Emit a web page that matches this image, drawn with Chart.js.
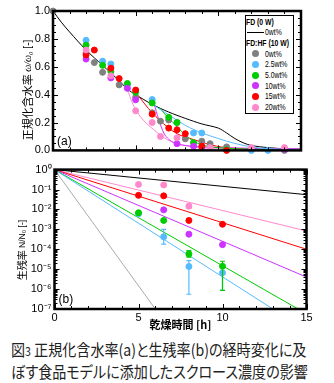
<!DOCTYPE html>
<html>
<head>
<meta charset="utf-8">
<script src="https://cdn.jsdelivr.net/npm/chart.js@4.4.0/dist/chart.umd.min.js"></script>
<style>
  body { margin: 0; background: #fff; overflow: hidden; }
  #wrap { position: relative; width: 334px; height: 383px; font-family: "Liberation Sans", Arial, sans-serif; }
  #wrap canvas { position: absolute; left: 0; }
  #chartA { top: 0; }
  #chartB { top: 160px; }
  #legend { position: absolute; left: 245px; top: 15px; width: 47px; height: 97px;
            border: 1px solid #000; background: #fff; font-size: 9.5px; color: #000; }
  #legend .row { position: absolute; left: 0; height: 10px; line-height: 10px; white-space: nowrap; }
  #legend .txt { display: inline-block; transform: scaleX(0.72); transform-origin: 0 50%; }
  #legend .head { font-weight: bold; }
  #legend .dot { position: absolute; width: 7px; height: 7px; border-radius: 50%; left: 6px; top: 1.5px; }
  #legend .ln { position: absolute; left: 1px; width: 17px; top: 5px; border-top: 1px solid #000; }
  #caption { position: absolute; left: 11px; top: 339px; font-family: "Noto Sans CJK JP", sans-serif;
             font-size: 16px; line-height: 20px; color: #222; white-space: nowrap;
             font-feature-settings: "palt"; transform: scaleX(0.88); transform-origin: 0 0; }
</style>
</head>
<body>
<div id="wrap">
  <canvas id="chartA" width="334" height="160"></canvas>
  <canvas id="chartB" width="334" height="172"></canvas>
  <div id="legend"></div>
  <div id="caption">図<span style="font-size:12px">3</span> 正規化含水率(a)と生残率(b)の経時変化に及<br>ぼす食品モデルに添加したスクロース濃度の影響</div>
</div>
<script>
// series names and colours
const series = ["0wt%", "2.5wt%", "5.0wt%", "10wt%", "15wt%", "20wt%"];
const colors = ["#808080", "#55BBFF", "#00CC00", "#CC33FF", "#FF0000", "#FF88CC"];

// (a) normalized moisture content, FD (0 W) reference curve
const fdHours = [0, 0.5, 1, 2, 3, 4, 4.5, 5, 6, 7, 8, 9, 10, 10.5, 11, 11.5, 12, 13, 14, 15];
const fdMoisture = [1, 0.92, 0.85, 0.72, 0.61, 0.5, 0.44, 0.4, 0.33, 0.275, 0.23, 0.19, 0.16, 0.125, 0.085, 0.055, 0.035, 0.02, 0.012, 0.01];

// (a) FD:HF (10 W) measurements
const moistHours = [
  [0, 2, 2.5, 3, 4, 5, 6, 6.5, 7, 8, 9, 9.5, 10.5, 14],
  [2, 3, 3.5, 4.5, 6, 7.5, 8.5, 9, 10.5, 12, 13],
  [2, 3, 3.5, 4.5, 5, 6, 7, 7.5, 8.5, 10.5],
  [2, 3.5, 4.5, 5, 7.5, 8.5, 9, 14],
  [2, 2.5, 3.5, 4, 5, 6, 7, 7.5, 8, 9, 10.5],
  [2, 3.5, 5, 6, 6.5, 7.5, 9.5, 12, 14]
];
const moistValues = [
  [1, 0.70, 0.63, 0.56, 0.47, 0.38, 0.27, 0.21, 0.218, 0.083, 0.066, 0.048, 0.025, 0],
  [0.79, 0.64, 0.62, 0.47, 0.365, 0.2, 0.125, 0.125, 0.005, 0, 0],
  [0.755, 0.61, 0.565, 0.48, 0.417, 0.34, 0.237, 0.2, 0.055, 0.005],
  [0.655, 0.52, 0.445, 0.363, 0.048, 0.03, 0.02, 0.008],
  [0.685, 0.72, 0.59, 0.515, 0.433, 0.26, 0.16, 0.148, 0.12, 0.03, 0],
  [0.72, 0.535, 0.284, 0.2, 0.10, 0.09, 0.02, 0.02, 0.02]
];

// (a) model curves (gray has none)
const fitHours = [
  [],
  [6, 7, 8, 8.5, 9, 10, 10.5, 11, 12, 13, 15],
  [6.4, 7, 7.5, 8, 8.5, 9, 10, 11, 15],
  [6.1, 6.4, 6.7, 7, 7.3, 8, 9, 10, 15],
  [5.1, 6, 6.9, 7.5, 8.5, 9.9, 11, 15],
  [4.5, 4.8, 5.3, 6.1, 6.9, 7.7, 8.5, 10, 15]
];
const fitValues = [
  [],
  [0.33, 0.255, 0.18, 0.15, 0.125, 0.085, 0.066, 0.05, 0.025, 0.012, 0.005],
  [0.31, 0.23, 0.17, 0.11, 0.066, 0.04, 0.02, 0.012, 0.005],
  [0.34, 0.22, 0.125, 0.08, 0.055, 0.035, 0.025, 0.02, 0.01],
  [0.4, 0.27, 0.17, 0.12, 0.078, 0.03, 0.015, 0.005],
  [0.44, 0.34, 0.24, 0.148, 0.078, 0.043, 0.025, 0.015, 0.01]
];

// (b) survival ratio N/N0
const survHours = [
  [],
  [5, 6.5, 8, 10],
  [5, 6.5, 8, 10],
  [6.5, 8, 10],
  [5, 6.5, 8, 10],
  [0, 5, 6.5, 8]
];
const survValues = [
  [],
  [0.006, 4.2e-4, 1.36e-5, 6.6e-6],
  [0.0068, 0.0028, 5.8e-5, 1.4e-5],
  [0.0095, 5.7e-4, 1.7e-4],
  [0.051, 0.048, 0.0028, 0.0018],
  [1, 0.18, 0.17, 0.0145]
];
// error bar ranges [low, high], null where none is drawn
const survErrors = [
  [],
  [null, [1.8e-4, 1.0e-3], [5.5e-7, 2.7e-5], [8.7e-7, 7.8e-6]],
  [[0.0055, 0.0085], null, [4.0e-5, 8.5e-5], [8.7e-7, 2.5e-5]],
  [null, null, null],
  [null, null, null, null],
  [null, null, null, [0.0112, 0.0178]]
];
// (b) first-order inactivation lines: N/N0 = 1 at t = 0, end point given
const killEndHours = [6, 13, 14.5, 15, 15, 15];
const killEndValues = [1e-7, 1e-7, 1e-7, 4e-6, 1.0e-4, 8.3e-4];
const fdKillEnd = 0.055;

const tickFont = { family: "'Liberation Sans', Arial, sans-serif", size: 11 };

function pairs(xs, ys) {
  return xs.map((x, i) => ({ x: x, y: ys[i] }));
}

// thick frame with inward ticks on all four sides
const frameTicks = {
  id: "frameTicks",
  afterDatasetsDraw(chart, args, opts) {
    const { ctx, chartArea: { left, right, top, bottom }, scales: { x, y } } = chart;
    ctx.save();
    ctx.strokeStyle = "#000";
    ctx.lineWidth = 1;
    ctx.beginPath();
    opts.xTicks.forEach((v) => {
      const px = Math.round(x.getPixelForValue(v)) + 0.5;
      const len = v % 5 === 0 ? 5 : 3;
      ctx.moveTo(px, bottom); ctx.lineTo(px, bottom - len);
      ctx.moveTo(px, top); ctx.lineTo(px, top + len);
    });
    opts.yTicks.forEach((t) => {
      const py = Math.round(y.getPixelForValue(t.v)) + 0.5;
      const len = t.major ? 5 : 3;
      ctx.moveTo(left, py); ctx.lineTo(left + len, py);
      ctx.moveTo(right, py); ctx.lineTo(right - len, py);
    });
    ctx.stroke();
    ctx.lineWidth = 2.5;
    ctx.strokeRect(left, top, right - left, bottom - top);
    ctx.restore();
  }
};

// vertical error bars from data objects carrying lo / hi
const errorBars = {
  id: "errorBars",
  afterDatasetsDraw(chart) {
    const { ctx, scales: { x, y } } = chart;
    ctx.save();
    chart.data.datasets.forEach((ds) => {
      ds.data.forEach((p) => {
        if (p.lo === undefined) return;
        const px = x.getPixelForValue(p.x);
        const y1 = y.getPixelForValue(p.lo);
        const y2 = y.getPixelForValue(p.hi);
        ctx.strokeStyle = ds.borderColor;
        ctx.lineWidth = 1.2;
        ctx.beginPath();
        ctx.moveTo(px, y1); ctx.lineTo(px, y2);
        ctx.moveTo(px - 2.5, y1); ctx.lineTo(px + 2.5, y1);
        ctx.moveTo(px - 2.5, y2); ctx.lineTo(px + 2.5, y2);
        ctx.stroke();
      });
    });
    ctx.restore();
  }
};

// rotated y-axis title and panel tag
const panelText = {
  id: "panelText",
  afterDraw(chart, args, opts) {
    const { ctx, chartArea: { left, bottom } } = chart;
    ctx.save();
    ctx.fillStyle = "#000";
    ctx.translate(opts.titleX, opts.titleY);
    ctx.rotate(-Math.PI / 2);
    let total = 0;
    opts.parts.forEach((p) => { ctx.font = p.font; total += ctx.measureText(p.text).width; });
    let pos = -total / 2;
    ctx.textBaseline = "middle";
    opts.parts.forEach((p) => {
      ctx.font = p.font;
      ctx.fillText(p.text, pos, 0);
      pos += ctx.measureText(p.text).width;
    });
    ctx.restore();
    ctx.save();
    ctx.font = "12px 'Liberation Sans', Arial, sans-serif";
    ctx.fillStyle = "#000";
    ctx.textBaseline = "middle";
    ctx.fillText(opts.tag, left + 4, bottom - 9);
    ctx.restore();
  }
};

const hourTicks = Array.from({ length: 16 }, (_, i) => i);

// ---------- (a) ----------
const dsA = [];
dsA.push({
  data: pairs(fdHours, fdMoisture), showLine: true, borderColor: "#000", borderWidth: 1,
  pointRadius: 0, tension: 0.3, order: 20
});
series.forEach((name, i) => {
  if (fitHours[i].length) {
    dsA.push({
      data: pairs(fitHours[i], fitValues[i]), showLine: true, borderColor: colors[i], borderWidth: 1,
      pointRadius: 0, cubicInterpolationMode: "monotone", order: 10 + i
    });
  }
});
series.forEach((name, i) => {
  dsA.push({
    label: name, data: pairs(moistHours[i], moistValues[i]), showLine: false,
    backgroundColor: colors[i], borderColor: colors[i], pointRadius: 3, pointBorderWidth: 1, order: 6 - i
  });
});

const yTicksA = [];
for (let k = 0; k <= 20; k++) yTicksA.push({ v: k * 0.05, major: k % 4 === 0 });

new Chart(document.getElementById("chartA"), {
  type: "scatter",
  data: { datasets: dsA },
  options: {
    responsive: false, animation: false, devicePixelRatio: 1, clip: false,
    layout: { padding: { left: 0, right: 33, top: 11, bottom: 0 } },
    plugins: {
      legend: { display: false }, tooltip: { enabled: false },
      frameTicks: { xTicks: hourTicks, yTicks: yTicksA },
      panelText: {
        titleX: 28, titleY: 90, tag: "(a)",
        parts: [
          { text: "正規化含水率 ", font: "11px 'Noto Sans CJK JP', sans-serif" },
          { text: "ω/ω₀", font: "italic 10px 'Liberation Serif', serif" },
          { text: " [-]", font: "10px 'Liberation Sans', Arial, sans-serif" }
        ]
      }
    },
    scales: {
      x: {
        type: "linear", min: 0, max: 15,
        grid: { display: false, drawTicks: false }, border: { display: false },
        ticks: { display: false },
        afterFit(s) { s.height = 5.5; }
      },
      y: {
        min: 0, max: 1,
        grid: { display: false, drawTicks: false }, border: { display: false },
        ticks: { stepSize: 0.2, padding: 3, color: "#000", font: tickFont, callback: (v) => v.toFixed(1) },
        afterFit(s) { s.width = 53; }
      }
    }
  },
  plugins: [frameTicks, panelText]
});

// ---------- (b) ----------
const dsB = [];
dsB.push({
  data: [{ x: 0, y: 1 }, { x: 15, y: fdKillEnd }], showLine: true, borderColor: "#000",
  borderWidth: 1, pointRadius: 0, order: 20
});
series.forEach((name, i) => {
  dsB.push({
    data: [{ x: 0, y: 1 }, { x: killEndHours[i], y: killEndValues[i] }], showLine: true,
    borderColor: i === 0 ? "#AAAAAA" : colors[i], borderWidth: 1, pointRadius: 0, order: 10 + i
  });
});
series.forEach((name, i) => {
  if (!survHours[i].length) return;
  const pts = survHours[i].map((h, j) => {
    const p = { x: h, y: survValues[i][j] };
    const e = survErrors[i][j];
    if (e) { p.lo = e[0]; p.hi = e[1]; }
    return p;
  });
  dsB.push({
    label: name, data: pts, showLine: false,
    backgroundColor: colors[i], borderColor: colors[i], pointRadius: 3, pointBorderWidth: 1, order: 6 - i
  });
});

const decades = [1e-7, 1e-6, 1e-5, 1e-4, 1e-3, 1e-2, 1e-1, 1];
const yTicksB = [];
decades.forEach((d) => {
  yTicksB.push({ v: d, major: true });
  if (d < 1) for (let m = 2; m <= 9; m++) yTicksB.push({ v: d * m, major: false });
});
const sup = { "0": "⁰", "1": "¹", "2": "²", "3": "³", "4": "⁴", "5": "⁵", "6": "⁶", "7": "⁷", "8": "⁸", "9": "⁹", "-": "⁻" };

new Chart(document.getElementById("chartB"), {
  type: "scatter",
  data: { datasets: dsB },
  options: {
    responsive: false, animation: false, devicePixelRatio: 1,
    layout: { padding: { left: 0, right: 27.5, top: 8, bottom: 0 } },
    plugins: {
      legend: { display: false }, tooltip: { enabled: false },
      frameTicks: { xTicks: hourTicks, yTicks: yTicksB },
      panelText: {
        titleX: 22.5, titleY: 90, tag: "(b)",
        parts: [
          { text: "生残率 ", font: "10px 'Noto Sans CJK JP', sans-serif" },
          { text: "N/N₀ [-]", font: "8.5px 'Liberation Sans', Arial, sans-serif" }
        ]
      }
    },
    scales: {
      x: {
        type: "linear", min: 0, max: 15,
        grid: { display: false, drawTicks: false }, border: { display: false },
        ticks: { stepSize: 5, padding: 2, color: "#000", font: tickFont, maxRotation: 0 },
        title: {
          display: true, text: "乾燥時間 [h]", color: "#000", padding: { top: 0, bottom: 1 },
          font: { family: "'Noto Sans CJK JP', sans-serif", size: 11, weight: "bold" }
        },
        afterFit(s) { s.height = 23; }
      },
      y: {
        type: "logarithmic", min: 1e-7, max: 1,
        grid: { display: false, drawTicks: false }, border: { display: false },
        afterBuildTicks(s) { s.ticks = decades.map((v) => ({ value: v })); },
        ticks: {
          padding: 3, color: "#000", font: tickFont,
          callback: (v) => "10" + String(Math.round(Math.log10(v))).split("").map((c) => sup[c]).join("")
        },
        afterFit(s) { s.width = 54.5; }
      }
    }
  },
  plugins: [errorBars, frameTicks, panelText]
});

// legend box for panel (a)
const legend = document.getElementById("legend");
const rowTops = [0.5, 11.2, 21.9, 32.6, 43.3, 54, 64.7, 75.4, 86.1];
function addRow(top, html) {
  const r = document.createElement("div");
  r.className = "row";
  r.style.top = top + "px";
  r.innerHTML = html;
  legend.appendChild(r);
}
addRow(rowTops[0], '<span class="txt head">FD (0 W)</span>');
addRow(rowTops[1], '<span class="ln"></span><span class="txt" style="margin-left:19px">0wt%</span>');
addRow(rowTops[2], '<span class="txt head">FD:HF (10 W)</span>');
series.forEach((name, i) => {
  addRow(rowTops[3 + i], '<span class="dot" style="background:' + colors[i] + '"></span>' +
    '<span class="txt" style="margin-left:19px">' + name + '</span>');
});
</script>
</body>
</html>
